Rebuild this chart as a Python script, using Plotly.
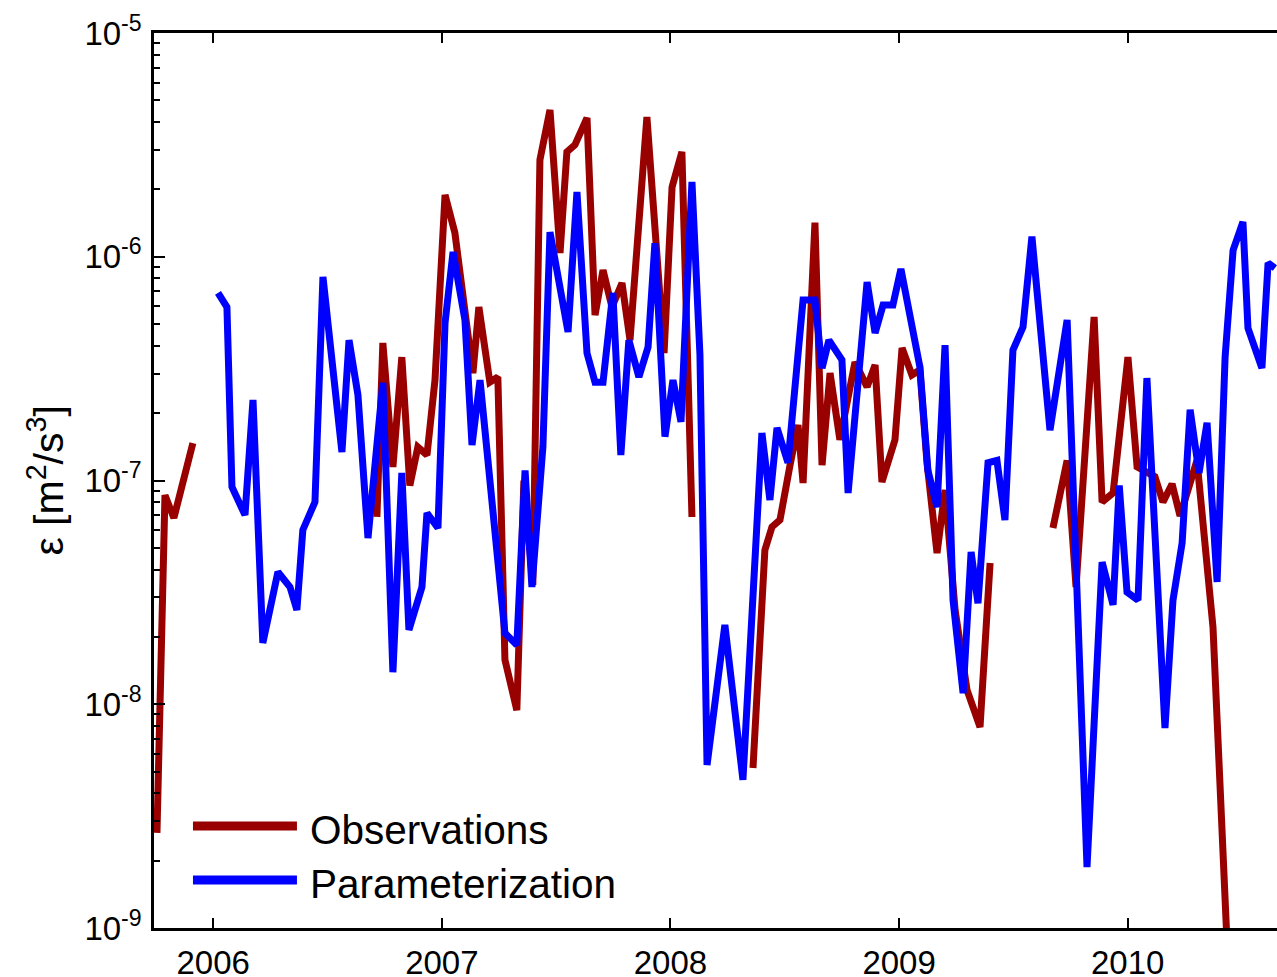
import plotly.graph_objects as go

# ---------------- data ----------------
# Observations: four separate segments (gaps between them)
obs_seg1_t = [2005.754, 2005.789, 2005.828, 2005.872, 2005.911]
obs_seg1_v = [2.66e-9, 8.6e-8, 6.8e-8, 1.04e-7, 1.47e-7]

obs_seg2_t = [2006.716, 2006.742, 2006.786, 2006.825, 2006.860, 2006.895, 2006.935, 2006.970,
              2007.014, 2007.057, 2007.136, 2007.162, 2007.210, 2007.245, 2007.276, 2007.328,
              2007.359, 2007.398, 2007.429, 2007.473, 2007.517, 2007.547, 2007.582, 2007.635,
              2007.670, 2007.705, 2007.744, 2007.788, 2007.823, 2007.897, 2007.972, 2008.007,
              2008.050, 2008.094]
obs_seg2_v = [6.87e-8, 4.12e-7, 1.15e-7, 3.56e-7, 9.5e-8, 1.41e-7, 1.30e-7, 2.81e-7,
              1.89e-6, 1.28e-6, 3.02e-7, 5.96e-7, 2.75e-7, 2.90e-7, 1.58e-8, 9.4e-9,
              1.0e-7, 3.41e-8, 2.71e-6, 4.53e-6, 1.04e-6, 2.94e-6, 3.16e-6, 4.17e-6,
              5.49e-7, 8.72e-7, 5.96e-7, 7.63e-7, 4.24e-7, 4.21e-6, 3.71e-7, 2.05e-6,
              2.94e-6, 6.87e-8]

obs_seg3_t = [2008.361, 2008.413, 2008.444, 2008.479, 2008.523, 2008.558, 2008.580, 2008.632,
              2008.663, 2008.698, 2008.741, 2008.807, 2008.860, 2008.895, 2008.925, 2008.982,
              2009.013, 2009.056, 2009.091, 2009.122, 2009.166, 2009.201, 2009.245, 2009.297,
              2009.354, 2009.398]
obs_seg3_v = [5.19e-9, 4.89e-8, 6.20e-8, 6.66e-8, 1.17e-7, 1.77e-7, 9.74e-8, 1.42e-6,
              1.17e-7, 3.02e-7, 1.52e-7, 3.38e-7, 2.62e-7, 3.28e-7, 9.85e-8, 1.52e-7,
              3.91e-7, 2.96e-7, 3.12e-7, 1.20e-7, 4.74e-8, 9.07e-8, 2.64e-8, 1.16e-8,
              7.91e-9, 4.28e-8]

obs_seg4_t = [2009.673, 2009.735, 2009.774, 2009.853, 2009.888, 2009.936, 2010.001, 2010.041,
              2010.119, 2010.154, 2010.194, 2010.229, 2010.303, 2010.373, 2010.434]
obs_seg4_v = [6.13e-8, 1.23e-7, 3.34e-8, 5.38e-7, 8.01e-8, 8.79e-8, 3.56e-7, 1.15e-7,
              1.04e-7, 8.01e-8, 9.65e-8, 6.94e-8, 1.23e-7, 2.21e-8, 8.8e-10]

# Parameterization: one continuous series
par_t = [2006.021, 2006.060, 2006.082, 2006.139, 2006.174, 2006.217, 2006.283, 2006.336,
         2006.366, 2006.392, 2006.445, 2006.480, 2006.563, 2006.594, 2006.633, 2006.677,
         2006.742, 2006.786, 2006.825, 2006.856, 2006.913, 2006.935, 2006.983, 2007.014,
         2007.049, 2007.101, 2007.132, 2007.167, 2007.276, 2007.328, 2007.364, 2007.394,
         2007.442, 2007.473, 2007.552, 2007.591, 2007.635, 2007.670, 2007.705, 2007.748,
         2007.783, 2007.818, 2007.862, 2007.902, 2007.932, 2007.976, 2008.011, 2008.046,
         2008.094, 2008.129, 2008.160, 2008.238, 2008.317, 2008.400, 2008.435, 2008.466,
         2008.514, 2008.580, 2008.632, 2008.663, 2008.693, 2008.750, 2008.777, 2008.860,
         2008.895, 2008.930, 2008.973, 2009.008, 2009.091, 2009.126, 2009.166, 2009.201,
         2009.236, 2009.280, 2009.315, 2009.345, 2009.389, 2009.428, 2009.463, 2009.498,
         2009.542, 2009.581, 2009.660, 2009.735, 2009.822, 2009.866, 2009.888, 2009.936,
         2009.963, 2009.997, 2010.045, 2010.084, 2010.163, 2010.198, 2010.238, 2010.273,
         2010.312, 2010.347, 2010.391, 2010.426, 2010.461, 2010.504, 2010.526, 2010.587,
         2010.614, 2010.644]
par_v = [6.89e-7, 5.96e-7, 9.35e-8, 7.01e-8, 2.29e-7, 1.88e-8, 3.90e-8, 3.34e-8,
         2.64e-8, 6.01e-8, 8.01e-8, 8.12e-7, 1.34e-7, 4.24e-7, 2.41e-7, 5.53e-8,
         2.73e-7, 1.39e-8, 1.08e-7, 2.15e-8, 3.34e-8, 7.16e-8, 6.13e-8, 5.06e-7,
         1.05e-6, 5.22e-7, 1.44e-7, 2.81e-7, 2.08e-8, 1.84e-8, 1.11e-7, 3.34e-8,
         1.41e-7, 1.29e-6, 4.61e-7, 1.95e-6, 3.71e-7, 2.75e-7, 2.75e-7, 6.89e-7,
         1.30e-7, 4.24e-7, 2.90e-7, 3.95e-7, 1.15e-6, 1.57e-7, 2.81e-7, 1.83e-7,
         2.16e-6, 3.64e-7, 5.35e-9, 2.26e-8, 4.59e-9, 1.63e-7, 8.18e-8, 1.72e-7,
         1.20e-7, 6.41e-7, 6.41e-7, 3.18e-7, 4.24e-7, 3.46e-7, 8.79e-8, 7.71e-7,
         4.56e-7, 6.09e-7, 6.09e-7, 8.82e-7, 3.22e-7, 1.11e-7, 7.61e-8, 4.03e-7,
         2.92e-8, 1.12e-8, 4.79e-8, 2.83e-8, 1.20e-7, 1.23e-7, 6.66e-8, 3.83e-7,
         4.85e-7, 1.23e-6, 1.68e-7, 5.22e-7, 1.87e-9, 1.80e-8, 4.32e-8, 2.78e-8,
         9.5e-8, 3.17e-8, 2.92e-8, 2.87e-7, 7.83e-9, 2.92e-8, 5.26e-8, 2.07e-7,
         1.08e-7, 1.81e-7, 3.52e-8, 3.56e-7, 1.07e-6, 1.43e-6, 4.80e-7, 3.18e-7,
         9.38e-7, 8.91e-7]

year_ticks = [2006, 2007, 2008, 2009, 2010]
year_labels = ["2006", "2007", "2008", "2009", "2010"]
decade_ticks = [1e-9, 1e-8, 1e-7, 1e-6, 1e-5]
decade_labels = ["10<sup>-9</sup>", "10<sup>-8</sup>", "10<sup>-7</sup>",
                 "10<sup>-6</sup>", "10<sup>-5</sup>"]
minor_ticks = [m * d for d in [1e-9, 1e-8, 1e-7, 1e-6] for m in range(2, 10)]

series_names = ["Observations", "Parameterization"]
series_colors = ["#990000", "#0000FF"]

# ---------------- build ----------------
obs_t, obs_v = [], []
for seg_t, seg_v in [(obs_seg1_t, obs_seg1_v), (obs_seg2_t, obs_seg2_v),
                     (obs_seg3_t, obs_seg3_v), (obs_seg4_t, obs_seg4_v)]:
    if obs_t:
        obs_t.append(None)
        obs_v.append(None)
    obs_t.extend(seg_t)
    obs_v.extend(seg_v)

FONT = "Liberation Sans, Arial, Helvetica, sans-serif"

fig = go.Figure()
fig.add_trace(go.Scatter(x=obs_t, y=obs_v, mode="lines", name=series_names[0],
                         connectgaps=False,
                         line=dict(color=series_colors[0], width=7)))
fig.add_trace(go.Scatter(x=par_t, y=par_v, mode="lines", name=series_names[1],
                         line=dict(color=series_colors[1], width=7)))

fig.update_layout(
    width=1277, height=977,
    margin=dict(l=154, r=0, t=33, b=49, autoexpand=False),
    paper_bgcolor="white", plot_bgcolor="white",
    showlegend=False,
    font=dict(family=FONT, size=33, color="black"),
    xaxis=dict(range=[2005.741, 2010.653], tickmode="array",
               tickvals=year_ticks, ticktext=year_labels,
               ticks="inside", ticklen=10, tickwidth=2, tickcolor="black",
               showline=True, linecolor="black", linewidth=2.5, mirror="ticks",
               showgrid=False, zeroline=False, automargin=False,
               ticklabelstandoff=4,
               tickfont=dict(family=FONT, size=33, color="black")),
    yaxis=dict(type="log", range=[-9, -5], tickmode="array",
               tickvals=decade_ticks, ticktext=decade_labels,
               ticks="inside", ticklen=11, tickwidth=2, tickcolor="black",
               showline=True, linecolor="black", linewidth=2.5,
               showgrid=False, zeroline=False, automargin=False,
               minor=dict(tickmode="array", tickvals=minor_ticks, ticks="inside",
                          ticklen=6, tickwidth=2, tickcolor="black", showgrid=False),
               ticklabelstandoff=3,
               tickfont=dict(family=FONT, size=33, color="black")),
)

# y-axis title
fig.add_annotation(text="\u03b5 [m<sup>2</sup>/s<sup>3</sup>]", textangle=-90,
                   xref="paper", yref="paper", x=-0.097, y=0.5,
                   xanchor="center", yanchor="middle", showarrow=False,
                   font=dict(family=FONT, size=41, color="black"))

# legend (drawn in the lower-left corner like the original)
leg_rows = [0.1140, 0.0536]
for name, color, yy in zip(series_names, series_colors, leg_rows):
    fig.add_shape(type="line", xref="paper", yref="paper",
                  x0=0.0347, x1=0.1273, y0=yy, y1=yy,
                  line=dict(color=color, width=9))
    fig.add_annotation(text=name, xref="paper", yref="paper",
                       x=0.1371, y=yy - 0.004, xanchor="left", yanchor="middle",
                       showarrow=False,
                       font=dict(family=FONT, size=40.5, color="black"))

fig.write_html("out.html",
               config={"displayModeBar": False},
               post_script="document.body.style.margin='0';"
                           "document.body.style.overflow='hidden';")
